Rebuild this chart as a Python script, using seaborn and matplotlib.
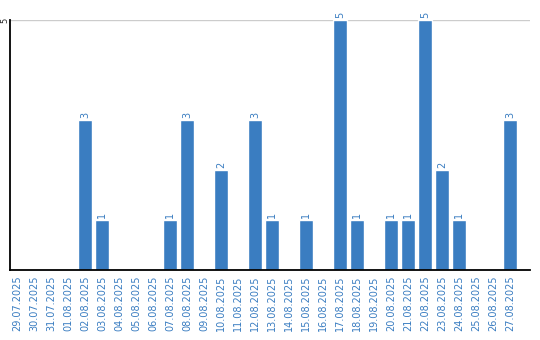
import matplotlib
matplotlib.use("Agg")
import matplotlib.pyplot as plt
import seaborn as sns
import pandas as pd

dates = ["29.07.2025", "30.07.2025", "31.07.2025", "01.08.2025", "02.08.2025", "03.08.2025",
         "04.08.2025", "05.08.2025", "06.08.2025", "07.08.2025", "08.08.2025", "09.08.2025",
         "10.08.2025", "11.08.2025", "12.08.2025", "13.08.2025", "14.08.2025", "15.08.2025",
         "16.08.2025", "17.08.2025", "18.08.2025", "19.08.2025", "20.08.2025", "21.08.2025",
         "22.08.2025", "23.08.2025", "24.08.2025", "25.08.2025", "26.08.2025", "27.08.2025"]
counts = [0, 0, 0, 0, 3, 1, 0, 0, 0, 1, 3, 0, 2, 0, 3, 1, 0, 1, 0, 5, 1, 0, 1, 1, 5, 2, 1, 0, 0, 3]
yticks = [5]

sns.set_style("white")
plt.rcParams['font.family'] = ['DejaVu Sans']
color = "#3a7dc1"

df = pd.DataFrame({"date": dates, "count": counts})
fig = plt.figure(figsize=(5.4, 3.4), dpi=100)
ax = fig.add_axes([10/540, 1 - 270/340, 520/540, 250/340])
sns.barplot(data=df, x="date", y="count", color=color, width=0.82, saturation=1, ax=ax)
ax.set_xlim(-0.41, 30.18)
ax.set_ylim(0, 5)
ax.set_yticks(yticks)
ax.set_yticklabels([str(t) for t in yticks], rotation=90, va="center", fontsize=6)
ax.tick_params(axis="y", length=0, pad=0.8)
ax.tick_params(axis="x", length=0, pad=4)
ax.set_xticks(range(len(dates)))
ax.set_xticklabels(dates, rotation=90, fontsize=7, color=color)
ax.grid(axis="y", color="#cccccc", linewidth=1)
ax.set_axisbelow(True)
for s in ["top", "right"]:
    ax.spines[s].set_visible(False)
for s in ["left", "bottom"]:
    ax.spines[s].set_color("black")
    ax.spines[s].set_linewidth(1.3)
ax.set_xlabel("")
ax.set_ylabel("")
for i, v in enumerate(counts):
    if v > 0:
        ax.text(i, v + 0.04, str(v), rotation=90, ha="center", va="bottom",
                fontsize=7, color=color, clip_on=False)
fig.savefig("out.png", dpi=100)
